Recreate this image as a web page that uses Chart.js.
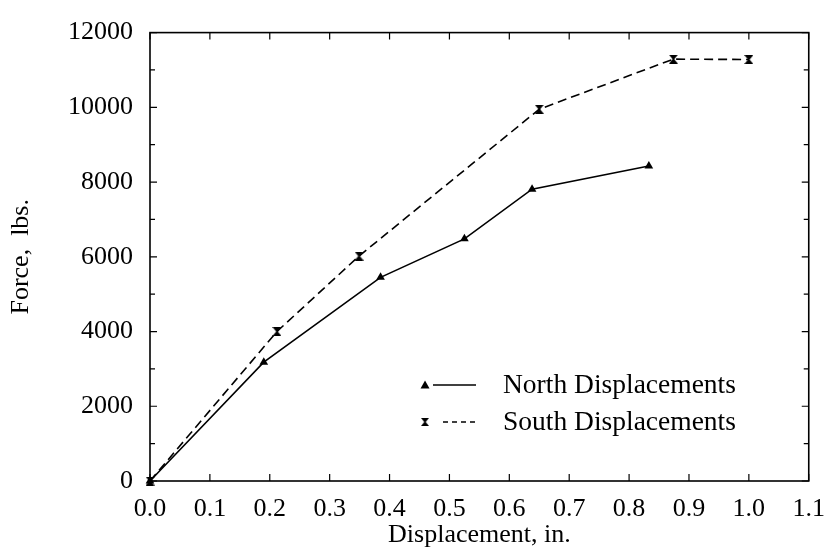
<!DOCTYPE html>
<html>
<head>
<meta charset="utf-8">
<script src="https://cdn.jsdelivr.net/npm/chart.js@4.4.1/dist/chart.umd.min.js"></script>
<style>
  html, body { margin: 0; padding: 0; background: #fff; }
  #c { display: block; }
</style>
</head>
<body>
<canvas id="c" width="838" height="559"></canvas>
<script>
// ---- Data ----
const seriesLabels = ['North Displacements', 'South Displacements'];
const northX = [0, 0.19, 0.385, 0.525, 0.638, 0.833];
const northY = [0, 3180, 5450, 6480, 7810, 8430];
const southX = [0, 0.212, 0.349, 0.65, 0.874, 1.0];
const southY = [0, 4000, 6020, 9950, 11290, 11280];
const xTickStep = 0.1, xMin = 0, xMax = 1.1;
const yTickStep = 1000, yLabelStep = 2000, yMin = 0, yMax = 12000;
const xTitle = 'Displacement, in.';
const yTitle = 'Force,  lbs.';

const FONT = '"Liberation Serif", "Times New Roman", serif';

// hourglass marker
function makeHourglass(w, h) {
  const c = document.createElement('canvas');
  c.width = w; c.height = h;
  const g = c.getContext('2d');
  g.fillStyle = '#000';
  g.beginPath();
  g.moveTo(0, 0); g.lineTo(w, 0); g.lineTo(w / 2 + 0.8, h / 2);
  g.lineTo(w, h); g.lineTo(0, h); g.lineTo(w / 2 - 0.8, h / 2);
  g.closePath();
  g.fill();
  return c;
}
const hourglass = makeHourglass(9, 9);

const toPts = (xs, ys) => xs.map((x, i) => ({ x: x, y: ys[i] }));

const framePlugin = {
  id: 'frame',
  afterDatasetsDraw(chart) {
    const ctx = chart.ctx;
    const a = chart.chartArea;
    const xs = chart.scales.x, ys = chart.scales.y;
    ctx.save();
    ctx.strokeStyle = '#000';
    ctx.lineWidth = 1.6;
    ctx.setLineDash([]);
    ctx.strokeRect(a.left, a.top, a.right - a.left, a.bottom - a.top);
    ctx.lineWidth = 1.2;
    ctx.beginPath();
    xs.ticks.forEach(t => {
      const px = xs.getPixelForValue(t.value);
      ctx.moveTo(px, a.bottom); ctx.lineTo(px, a.bottom - 7);
      ctx.moveTo(px, a.top); ctx.lineTo(px, a.top + 7);
    });
    ys.ticks.forEach(t => {
      const py = ys.getPixelForValue(t.value);
      const len = (Math.round(t.value) % yLabelStep === 0) ? 7 : 5;
      ctx.moveTo(a.left, py); ctx.lineTo(a.left + len, py);
      ctx.moveTo(a.right, py); ctx.lineTo(a.right - len, py);
    });
    ctx.stroke();

    // legend inside the plot
    const ds = chart.data.datasets;
    const rows = [385, 422];
    ctx.font = '27.5px ' + FONT;
    ctx.fillStyle = '#000';
    ctx.textBaseline = 'middle';
    ctx.textAlign = 'left';
    // row 1: triangle + solid line
    let y = rows[0];
    ctx.beginPath();
    ctx.moveTo(425, y - 4.5); ctx.lineTo(429.5, y + 3.5); ctx.lineTo(420.5, y + 3.5); ctx.closePath();
    ctx.fill();
    ctx.lineWidth = 1.4;
    ctx.beginPath(); ctx.moveTo(433, y); ctx.lineTo(476, y); ctx.stroke();
    ctx.fillText(ds[0].label, 503, y + 1);
    // row 2: hourglass + dashed line
    y = rows[1];
    ctx.drawImage(hourglass, 425 - 4, y - 4, 8, 8);
    ctx.setLineDash([5, 4]);
    ctx.beginPath(); ctx.moveTo(443, y); ctx.lineTo(477, y); ctx.stroke();
    ctx.setLineDash([]);
    ctx.fillText(ds[1].label, 503, y + 1);
    ctx.restore();
  }
};

new Chart(document.getElementById('c'), {
  type: 'scatter',
  data: {
    datasets: [
      {
        label: seriesLabels[0],
        data: toPts(northX, northY),
        showLine: true,
        borderColor: '#000',
        backgroundColor: '#000',
        borderWidth: 1.6,
        pointStyle: 'triangle',
        pointRadius: 5,
        pointBorderWidth: 0,
        clip: false
      },
      {
        label: seriesLabels[1],
        data: toPts(southX, southY),
        showLine: true,
        borderColor: '#000',
        backgroundColor: '#000',
        borderWidth: 1.6,
        borderDash: [9, 5],
        pointStyle: hourglass,
        pointRadius: 5,
        clip: false
      }
    ]
  },
  options: {
    responsive: false,
    animation: false,
    devicePixelRatio: 1,
    layout: { padding: { left: 0, right: 22, top: 24, bottom: 0 } },
    plugins: {
      legend: { display: false },
      tooltip: { enabled: false }
    },
    scales: {
      x: {
        type: 'linear',
        min: xMin, max: xMax,
        border: { display: false },
        grid: { display: false, drawTicks: false },
        ticks: {
          stepSize: xTickStep,
          autoSkip: false,
          maxRotation: 0,
          padding: 13,
          color: '#000',
          font: { family: FONT, size: 26 },
          callback: v => Number(v).toFixed(1)
        },
        title: {
          display: true,
          text: xTitle,
          color: '#000',
          font: { family: FONT, size: 26 },
          padding: { top: 0, bottom: 8 }
        },
        afterFit: s => { s.height = 78; }
      },
      y: {
        type: 'linear',
        min: yMin, max: yMax,
        border: { display: false },
        grid: { display: false, drawTicks: false },
        ticks: {
          stepSize: yTickStep,
          autoSkip: false,
          padding: 17,
          color: '#000',
          font: { family: FONT, size: 26 },
          callback: v => (Math.round(v) % yLabelStep === 0 ? String(v) : '')
        },
        title: {
          display: true,
          text: yTitle,
          color: '#000',
          font: { family: FONT, size: 26 },
          padding: { top: 6, bottom: 0 }
        },
        afterFit: s => { s.width = 150; }
      }
    }
  },
  plugins: [framePlugin]
});
</script>
</body>
</html>
